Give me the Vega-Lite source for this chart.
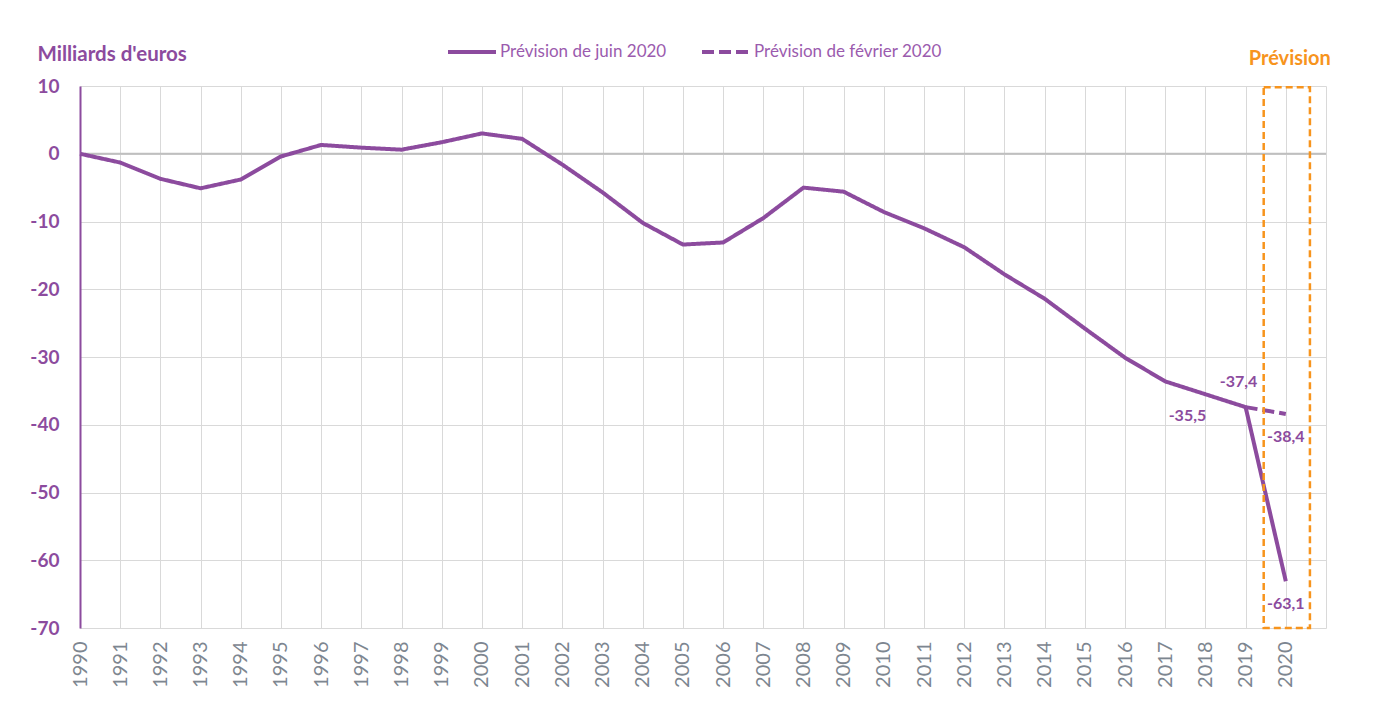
{
  "$schema": "https://vega.github.io/schema/vega-lite/v6.json",
  "width": 1246,
  "height": 542,
  "autosize": {"type": "none"},
  "padding": {"left": 80, "top": 86, "right": 67, "bottom": 93},
  "background": "white",
  "config": {
    "view": {"stroke": null},
    "font": "Lato"
  },
  "datasets": {
    "series": [
      {"year": 1990, "value": 0.0, "serie": "Prévision de juin 2020"},
      {"year": 1991, "value": -1.3, "serie": "Prévision de juin 2020"},
      {"year": 1992, "value": -3.7, "serie": "Prévision de juin 2020"},
      {"year": 1993, "value": -5.1, "serie": "Prévision de juin 2020"},
      {"year": 1994, "value": -3.8, "serie": "Prévision de juin 2020"},
      {"year": 1995, "value": -0.4, "serie": "Prévision de juin 2020"},
      {"year": 1996, "value": 1.3, "serie": "Prévision de juin 2020"},
      {"year": 1997, "value": 0.9, "serie": "Prévision de juin 2020"},
      {"year": 1998, "value": 0.6, "serie": "Prévision de juin 2020"},
      {"year": 1999, "value": 1.7, "serie": "Prévision de juin 2020"},
      {"year": 2000, "value": 3.0, "serie": "Prévision de juin 2020"},
      {"year": 2001, "value": 2.2, "serie": "Prévision de juin 2020"},
      {"year": 2002, "value": -1.6, "serie": "Prévision de juin 2020"},
      {"year": 2003, "value": -5.7, "serie": "Prévision de juin 2020"},
      {"year": 2004, "value": -10.2, "serie": "Prévision de juin 2020"},
      {"year": 2005, "value": -13.4, "serie": "Prévision de juin 2020"},
      {"year": 2006, "value": -13.1, "serie": "Prévision de juin 2020"},
      {"year": 2007, "value": -9.5, "serie": "Prévision de juin 2020"},
      {"year": 2008, "value": -5.0, "serie": "Prévision de juin 2020"},
      {"year": 2009, "value": -5.6, "serie": "Prévision de juin 2020"},
      {"year": 2010, "value": -8.6, "serie": "Prévision de juin 2020"},
      {"year": 2011, "value": -11.0, "serie": "Prévision de juin 2020"},
      {"year": 2012, "value": -13.8, "serie": "Prévision de juin 2020"},
      {"year": 2013, "value": -17.8, "serie": "Prévision de juin 2020"},
      {"year": 2014, "value": -21.4, "serie": "Prévision de juin 2020"},
      {"year": 2015, "value": -25.8, "serie": "Prévision de juin 2020"},
      {"year": 2016, "value": -30.1, "serie": "Prévision de juin 2020"},
      {"year": 2017, "value": -33.6, "serie": "Prévision de juin 2020"},
      {"year": 2018, "value": -35.5, "serie": "Prévision de juin 2020"},
      {"year": 2019, "value": -37.4, "serie": "Prévision de juin 2020"},
      {"year": 2020, "value": -63.1, "serie": "Prévision de juin 2020"},
      {"year": 2019, "value": -37.4, "serie": "Prévision de février 2020"},
      {"year": 2020, "value": -38.4, "serie": "Prévision de février 2020"}
    ],
    "labels": [
      {"year": 2018, "value": -35.5, "label": "-35,5"},
      {"year": 2019, "value": -37.4, "label": "-37,4"},
      {"year": 2020, "value": -38.4, "label": "-38,4"},
      {"year": 2020, "value": -63.1, "label": "-63,1"}
    ],
    "box": [
      {"start": 2019.45, "end": 2020.6, "top": 9.8, "bottom": -70}
    ]
  },
  "layer": [
    {
      "data": {"values": [{"v": 0}]},
      "mark": {"type": "rule", "color": "#BFBFBF", "strokeWidth": 2},
      "encoding": {
        "y": {
          "datum": 0,
          "type": "quantitative",
          "scale": {"domain": [-70, 10], "nice": false, "zero": false},
          "axis": {
            "values": [-70, -60, -50, -40, -30, -20, -10, 0, 10],
            "labelExpr": "'' + datum.value",
            "grid": true,
            "gridColor": "#D9D9D9",
            "gridWidth": 1,
            "ticks": false,
            "domain": true,
            "domainColor": "#8C4B9E",
            "domainWidth": 2,
            "labelColor": "#8C4B9E",
            "labelFont": "Lato",
            "labelFontSize": 19,
            "labelFontWeight": "bold",
            "labelPadding": 21,
            "title": "Milliards d'euros",
            "titleAngle": 0,
            "titleX": -43,
            "titleY": -26,
            "titleAlign": "left",
            "titleBaseline": "alphabetic",
            "titleColor": "#8C4B9E",
            "titleFont": "Lato",
            "titleFontSize": 20.5,
            "titleFontWeight": "bold"
          }
        }
      }
    },
    {
      "data": {"name": "series"},
      "mark": {"type": "line", "strokeWidth": 4, "strokeCap": "butt", "strokeJoin": "round"},
      "encoding": {
        "x": {
          "field": "year",
          "type": "quantitative",
          "scale": {"domain": [1990, 2021], "nice": false, "zero": false},
          "axis": {
            "values": [1990, 1991, 1992, 1993, 1994, 1995, 1996, 1997, 1998, 1999, 2000, 2001, 2002, 2003, 2004, 2005, 2006, 2007, 2008, 2009, 2010, 2011, 2012, 2013, 2014, 2015, 2016, 2017, 2018, 2019, 2020, 2021],
            "labelExpr": "datum.value == 2021 ? '' : '' + datum.value",
            "grid": true,
            "gridColor": "#D9D9D9",
            "gridWidth": 1,
            "domain": false,
            "ticks": false,
            "labelAngle": -90,
            "labelAlign": "right",
            "labelBaseline": "middle",
            "labelPadding": 13,
            "labelColor": "#7D8690",
            "labelFont": "Lato",
            "labelFontSize": 20,
            "title": null
          }
        },
        "y": {"field": "value", "type": "quantitative"},
        "color": {
          "field": "serie",
          "type": "nominal",
          "scale": {
            "domain": ["Prévision de juin 2020", "Prévision de février 2020"],
            "range": ["#8C4B9E", "#8C4B9E"]
          },
          "legend": {
            "orient": "none",
            "direction": "horizontal",
            "legendX": 366,
            "legendY": -60,
            "title": null,
            "symbolType": "stroke",
            "symbolSize": 2304,
            "symbolStrokeWidth": 4,
            "labelColor": "#9B5BAE",
            "labelFont": "Lato",
            "labelFontSize": 17,
            "labelOffset": 2,
            "columnPadding": 27,
            "labelLimit": 400
          }
        },
        "strokeDash": {
          "field": "serie",
          "type": "nominal",
          "scale": {
            "domain": ["Prévision de juin 2020", "Prévision de février 2020"],
            "range": [[1, 0], [12, 5]]
          },
          "legend": null
        }
      }
    },
    {
      "data": {"name": "box"},
      "mark": {"type": "rect", "fill": null, "fillOpacity": 0, "stroke": "#F7941D", "strokeWidth": 2.5, "strokeDash": [7, 4]},
      "encoding": {
        "x": {"field": "start", "type": "quantitative"},
        "x2": {"field": "end"},
        "y": {"field": "top", "type": "quantitative"},
        "y2": {"field": "bottom"}
      }
    },
    {
      "data": {"values": [{"year": 2020.1, "value": 10, "label": "Prévision"}]},
      "mark": {"type": "text", "color": "#F7941D", "font": "Lato", "fontSize": 20, "fontWeight": "bold", "dy": -27, "align": "center", "baseline": "middle"},
      "encoding": {
        "x": {"field": "year", "type": "quantitative"},
        "y": {"field": "value", "type": "quantitative"},
        "text": {"field": "label"}
      }
    },
    {
      "data": {"name": "labels"},
      "transform": [{"filter": "datum.label == '-35,5'"}],
      "mark": {"type": "text", "color": "#8C4B9E", "font": "Lato", "fontSize": 16, "fontWeight": "bold", "dx": -18, "dy": 22},
      "encoding": {
        "x": {"field": "year", "type": "quantitative"},
        "y": {"field": "value", "type": "quantitative"},
        "text": {"field": "label"}
      }
    },
    {
      "data": {"name": "labels"},
      "transform": [{"filter": "datum.label == '-37,4'"}],
      "mark": {"type": "text", "color": "#8C4B9E", "font": "Lato", "fontSize": 16, "fontWeight": "bold", "dx": -7, "dy": -25},
      "encoding": {
        "x": {"field": "year", "type": "quantitative"},
        "y": {"field": "value", "type": "quantitative"},
        "text": {"field": "label"}
      }
    },
    {
      "data": {"name": "labels"},
      "transform": [{"filter": "datum.label == '-38,4' || datum.label == '-63,1'"}],
      "mark": {"type": "text", "color": "#8C4B9E", "font": "Lato", "fontSize": 16, "fontWeight": "bold", "dx": 0, "dy": 23},
      "encoding": {
        "x": {"field": "year", "type": "quantitative"},
        "y": {"field": "value", "type": "quantitative"},
        "text": {"field": "label"}
      }
    }
  ]
}
